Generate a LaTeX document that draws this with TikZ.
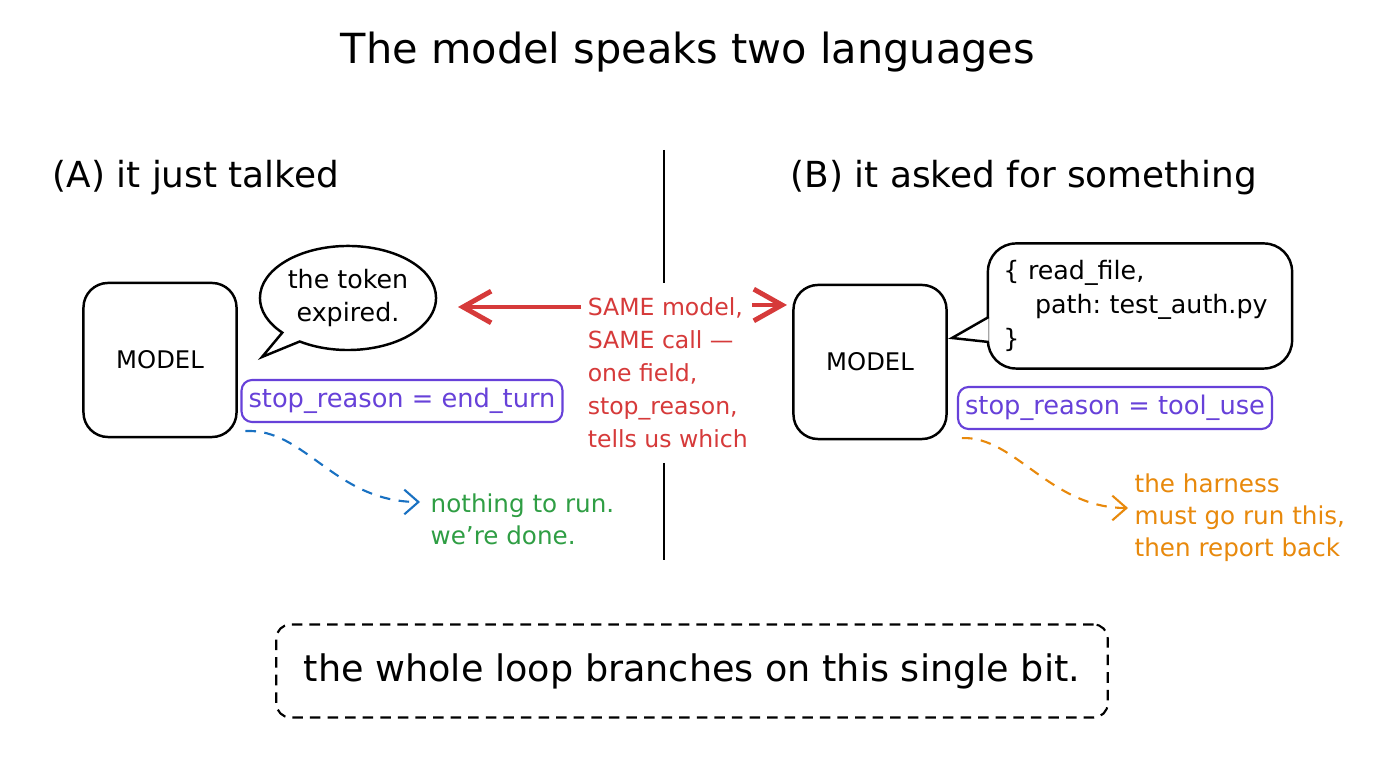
\documentclass[tikz,border=0pt]{standalone}
\usepackage{fontspec}
\setmainfont{DejaVu Sans}
\usepackage{xcolor}
\usepackage{tikz}
\usetikzlibrary{shapes,shapes.callouts,arrows.meta,positioning,calc}
\frenchspacing

\definecolor{redc}{HTML}{D63A3A}
\definecolor{purplec}{HTML}{6741D9}
\definecolor{bluec}{HTML}{1971C2}
\definecolor{greenc}{HTML}{2F9E44}
\definecolor{orangec}{HTML}{E8890C}

\begin{document}
\begin{tikzpicture}[x=0.01cm,y=-0.01cm,
    modelbox/.style={draw,line width=0.7pt,rounded corners=7pt,minimum width=1.53cm,minimum height=1.54cm,font=\fontsize{6.9}{8}\selectfont},
    reasonbox/.style={draw=purplec,text=purplec,line width=0.6pt,rounded corners=3pt,inner xsep=2pt,inner ysep=0pt,minimum height=0.42cm,font=\fontsize{7.3}{9}\selectfont},
    note/.style={align=left,anchor=west,inner sep=0pt,font=\fontsize{7}{9.1}\selectfont},
    heading/.style={anchor=west,inner sep=0pt,font=\fontsize{10.2}{12}\selectfont},
    flow/.style={line width=0.6pt,dash pattern=on 3pt off 2.4pt,-{Straight Barb[length=4pt,width=7pt]}},
    redarrow/.style={draw=redc,line width=1.4pt,-{Straight Barb[length=8pt,width=9pt]}}]

    % Frame
    \useasboundingbox (0,0) rectangle (1376,768);
    \fill[white] (0,0) rectangle (1376,768);

    % Title and headings
    \node (title) at (688,52) {\fontsize{11.8}{14}\selectfont The model speaks two languages};
    \node[heading] (headA) at (52,178) {(A) it just talked};
    \node[heading] (headB) at (790,178) {(B) it asked for something};

    % Panel A
    \node[modelbox] (modelA) at (160,360) {MODEL};
    \node[ellipse callout,draw,line width=0.7pt,inner sep=0pt,minimum width=1.76cm,minimum height=1.04cm,
          align=center,callout absolute pointer={(262,357)},font=\fontsize{7.2}{9.4}\selectfont] (sayA) at (348,298) {the token\\expired.};
    \node[reasonbox] (reasonA) at (402,401) {stop\_reason = end\_turn};
    \node[note,text=greenc] (doneA) at (430,519) {nothing to run.\\we're done.};
    \draw[flow,draw=bluec] ($(reasonA.south west)+(5,8)$) .. controls (305,428) and (335,502) .. ($(doneA.west)+(-10,-17)$);

    % Panel B
    \node[modelbox] (modelB) at (870,362) {MODEL};
    \node[draw,line width=0.7pt,rounded corners=8pt,align=left,text width=2.94cm,inner xsep=0.05cm,
          minimum height=1.25cm,font=\fontsize{7.2}{9.6}\selectfont] (callB) at (1140,306)
          {\hspace*{3pt}\{ read\_file,\\\hspace*{12pt}path: test\_auth.py\\\hspace*{3pt}\}};
    \coordinate (tipB) at (952,338);
    \filldraw[fill=white,line width=0.7pt] ($(callB.west)+(2,11)$) -- (tipB) -- ($(callB.west)+(2,36)$);
    \node[reasonbox] (reasonB) at (1115,408) {stop\_reason = tool\_use};
    \node[note,text=orangec] (runB) at (1134,518) {the harness\\must go run this,\\then report back};
    \draw[flow,draw=orangec] ($(reasonB.south west)+(5,8)$) .. controls (1015,436) and (1050,508) .. ($(runB.west)+(-6,-10)$);

    % Middle: divider and shared note
    \node[note,text=redc,anchor=north west,inner sep=4pt,font=\fontsize{6.7}{9.4}\selectfont] (same) at (573,283)
          {SAME model,\\SAME call ---\\one field,\\stop\_reason,\\tells us which};
    \coordinate (divtop) at (664,150);
    \coordinate (divbot) at (664,560);
    \draw[line width=0.6pt] (divtop) -- (divtop |- same.north);
    \draw[line width=0.6pt] (divbot |- same.south) -- (divbot);
    \coordinate (sameL) at (581,307);
    \coordinate (sameR) at (752,305);
    \coordinate (tipA) at (458,307);
    \draw[redarrow] (sameL) -- (tipA);
    \draw[redarrow,shorten >=1.5pt] (sameR) -- (modelB.west |- sameR);

    % Bottom line
    \node[draw,line width=0.6pt,dash pattern=on 3pt off 2pt,rounded corners=4pt,minimum width=8.31cm,minimum height=0.93cm,
          font=\fontsize{10.4}{12}\selectfont] (bitbox) at (692,671) {the whole loop branches on this single bit.};
\end{tikzpicture}
\end{document}
